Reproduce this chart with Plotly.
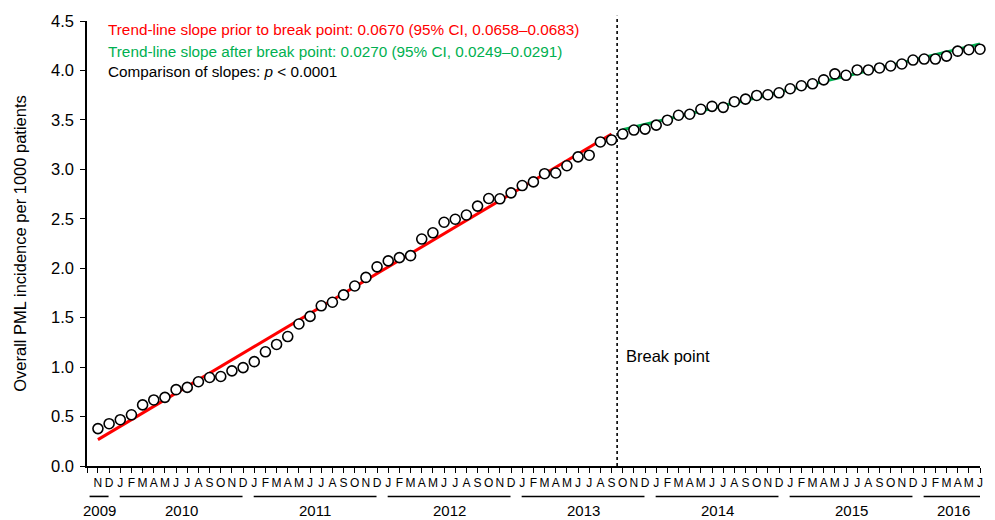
import plotly.graph_objects as go

# ---- data ----
years = [2009, 2010, 2011, 2012, 2013, 2014, 2015, 2016]
year_months = [
    ["N", "D"],
    ["J", "F", "M", "A", "M", "J", "J", "A", "S", "O", "N", "D"],
    ["J", "F", "M", "A", "M", "J", "J", "A", "S", "O", "N", "D"],
    ["J", "F", "M", "A", "M", "J", "J", "A", "S", "O", "N", "D"],
    ["J", "F", "M", "A", "M", "J", "J", "A", "S", "O", "N", "D"],
    ["J", "F", "M", "A", "M", "J", "J", "A", "S", "O", "N", "D"],
    ["J", "F", "M", "A", "M", "J", "J", "A", "S", "O", "N", "D"],
    ["J", "F", "M", "A", "M", "J"],
]
incidence = [0.378, 0.428, 0.468, 0.518, 0.618, 0.668, 0.694, 0.772, 0.795, 0.852,
             0.895, 0.905, 0.962, 0.995, 1.055, 1.155, 1.229, 1.309, 1.436, 1.513,
             1.620, 1.656, 1.730, 1.820, 1.907, 2.014, 2.074, 2.107, 2.127, 2.295,
             2.358, 2.465, 2.495, 2.538, 2.628, 2.705, 2.702, 2.762, 2.836, 2.873,
             2.956, 2.963, 3.036, 3.126, 3.143, 3.277, 3.297, 3.357, 3.397, 3.407,
             3.447, 3.497, 3.547, 3.557, 3.607, 3.637, 3.627, 3.684, 3.710, 3.747,
             3.754, 3.774, 3.815, 3.845, 3.865, 3.905, 3.965, 3.951, 4.005, 4.005,
             4.025, 4.045, 4.065, 4.105, 4.115, 4.115, 4.145, 4.195, 4.210, 4.215]
# trend-line end points (month index, value)
red_trend_x = [0, 46]
red_trend_y = [0.267, 3.357]
green_trend_x = [47, 79]
green_trend_y = [3.400, 4.268]
break_index = 46.5
y_ticks = [0.0, 0.5, 1.0, 1.5, 2.0, 2.5, 3.0, 3.5, 4.0, 4.5]

red_text = "Trend-line slope prior to break point: 0.0670 (95% CI, 0.0658\u20130.0683)"
green_text = "Trend-line slope after break point: 0.0270 (95% CI, 0.0249\u20130.0291)"
black_text = "Comparison of slopes: <i>p</i> < 0.0001"

# ---- build ----
month_labels = [m for ms in year_months for m in ms]
x_idx = list(range(len(month_labels)))

FONT = "Liberation Sans, Arial, Helvetica, sans-serif"
RED = "#ff0000"
GREEN = "#00b050"

fig = go.Figure()
fig.add_trace(go.Scatter(x=red_trend_x, y=red_trend_y, mode="lines",
                         line=dict(color=RED, width=3), hoverinfo="skip", cliponaxis=False))
fig.add_trace(go.Scatter(x=green_trend_x, y=green_trend_y, mode="lines",
                         line=dict(color=GREEN, width=3), hoverinfo="skip", cliponaxis=False))
fig.add_trace(go.Scatter(x=x_idx, y=incidence, mode="markers", cliponaxis=False,
                         marker=dict(symbol="circle", size=10, color="white",
                                     line=dict(color="black", width=1.6))))

# break-point dotted line
fig.add_shape(type="line", xref="x", yref="paper", x0=break_index, x1=break_index,
              y0=0, y1=1.012, line=dict(color="black", width=1.6, dash="dot"))

annotations = []
for txt, col, yv in [(red_text, RED, 4.41), (green_text, GREEN, 4.19), (black_text, "black", 3.985)]:
    annotations.append(dict(x=0.74, y=yv, xref="x", yref="y", text=txt, showarrow=False,
                            xanchor="left", yanchor="middle",
                            font=dict(family=FONT, size=15.3, color=col)))
annotations.append(dict(x=47.1, y=1.112, xref="x", yref="y", text="Break point", showarrow=False,
                        xanchor="left", yanchor="middle", font=dict(family=FONT, size=16.5, color="black")))

# year lines and labels
start = 0
for yr, ms in zip(years, year_months):
    end = start + len(ms) - 1
    x0 = start - 0.05 if start > 0 else -0.75
    x1 = end - 0.05 if yr != years[-1] else end + 0.3
    fig.add_shape(type="line", xref="x", yref="paper", x0=x0, x1=x1, y0=-0.0684, y1=-0.0684,
                  line=dict(color="black", width=1.6))
    annotations.append(dict(x=(x0 + x1) / 2, y=-0.1002, xref="x", yref="paper", text=str(yr),
                            showarrow=False, xanchor="center", yanchor="middle",
                            font=dict(family=FONT, size=15, color="black")))
    start = end + 1

fig.update_layout(
    width=995, height=520,
    margin=dict(l=87, r=12, t=17, b=54),
    paper_bgcolor="white", plot_bgcolor="white",
    showlegend=False,
    font=dict(family=FONT, color="black"),
    annotations=annotations,
    xaxis=dict(range=[-0.98, 79], tickvals=[-0.98] + x_idx, ticktext=[""] + month_labels,
               ticks="outside", ticklen=5, tickwidth=1.2, tickcolor="black",
               showline=True, linecolor="black", linewidth=1.6,
               showgrid=False, zeroline=False, tickangle=0,
               tickfont=dict(family=FONT, size=12, color="black")),
    yaxis=dict(range=[0, 4.5], tickvals=y_ticks, tickformat=".1f",
               ticks="outside", ticklen=5, tickwidth=1.2, tickcolor="black",
               showline=True, linecolor="black", linewidth=1.6,
               showgrid=False, zeroline=False, ticklabelstandoff=3,
               tickfont=dict(family=FONT, size=16.5, color="black"),
               title=dict(text="Overall PML incidence per 1000 patients",
                          font=dict(family=FONT, size=16.5, color="black"), standoff=20)),
)

fig.write_html("out.html", config={"displayModeBar": False},
               post_script="document.body.style.margin='0';document.body.style.overflow='hidden';")
